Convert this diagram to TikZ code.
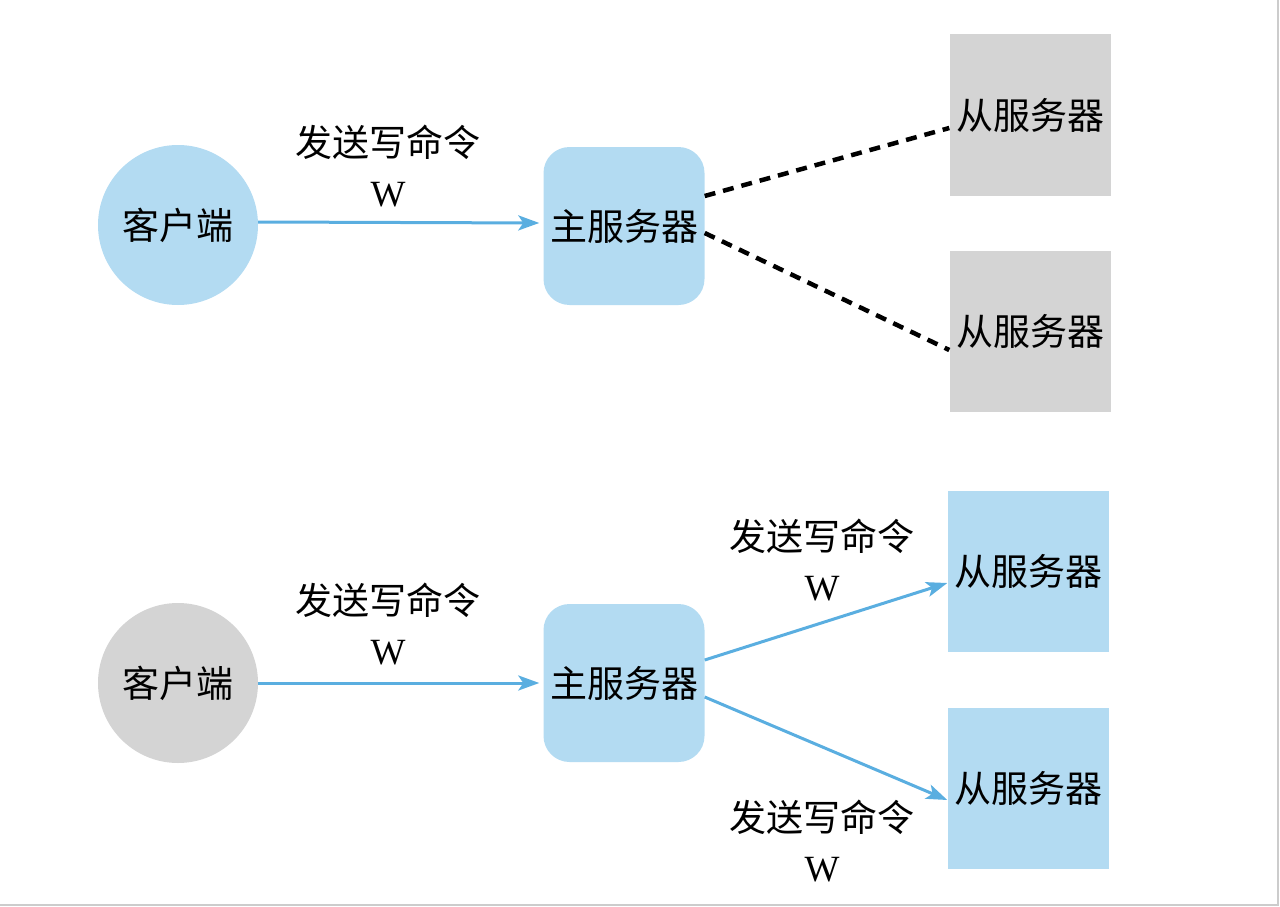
\documentclass[tikz,border=0pt]{standalone}
\usepackage{fontspec}
\setmainfont{Liberation Serif}
\newfontfamily\cjk{Noto Sans CJK SC}
\usetikzlibrary{shapes,arrows.meta,positioning,calc}
\definecolor{skyblue}{HTML}{B3DBF2}
\definecolor{lightgray}{HTML}{D4D4D4}
\definecolor{arrowblue}{HTML}{5AAEE0}
\definecolor{framegray}{HTML}{CCCCCC}

\tikzset{
  txt/.style={font=\fontsize{37}{50}\selectfont\cjk},
  client/.style={circle, minimum size=160pt, inner sep=0pt, txt},
  master/.style={rectangle, rounded corners=26pt, fill=skyblue, minimum width=161pt, minimum height=158pt, inner sep=0pt, txt},
  slave/.style={rectangle, minimum width=161pt, minimum height=161pt, inner sep=0pt, txt},
  sendlabel/.style={align=center, font=\fontsize{37}{50}\selectfont},
  sendarrow/.style={arrowblue, line width=3pt, -{Stealth[length=21pt,width=15pt,inset=5pt]}, shorten >=4pt},
  syncline/.style={black, line width=4.5pt, dash pattern=on 11pt off 8pt}
}

\begin{document}
\begin{tikzpicture}[x=1pt,y=-1pt]
\useasboundingbox (0,0) rectangle (1280,907);
\draw[framegray, line width=2pt] (0,905) -- (1278,905) -- (1278,0);

% top: write goes to master only
\node[client, fill=skyblue] (clientA) at (178,225) {客户端};
\node[master] (masterA) at (624,226) {主服务器};
\node[slave, fill=lightgray] (slaveA) at (1030,115) {从服务器};
\node[slave, fill=lightgray] (slaveB) at (1030,331) {从服务器};
\node[sendlabel] (labelA) at (388,166) {{\cjk 发送写命令}\\W};

\draw[sendarrow] ([yshift=3pt]clientA.east) -- ([yshift=3pt]masterA.west);
\draw[syncline] ([yshift=30pt]masterA.east) -- ([yshift=-13pt]slaveA.west);
\draw[syncline] ([yshift=-7pt]masterA.east) -- ([yshift=-19pt]slaveB.west);

% bottom: master forwards the write
\node[client, fill=lightgray] (clientB) at (178,683) {客户端};
\node[master] (masterB) at (624,683) {主服务器};
\node[slave, fill=skyblue] (slaveC) at (1028,571) {从服务器};
\node[slave, fill=skyblue] (slaveD) at (1028,788) {从服务器};
\node[sendlabel] (labelB) at (388,624) {{\cjk 发送写命令}\\W};
\node[sendlabel] (labelC) at (822,560) {{\cjk 发送写命令}\\W};
\node[sendlabel] (labelD) at (822,841) {{\cjk 发送写命令}\\W};

\draw[sendarrow] (clientB.east) -- (masterB.west);
\draw[sendarrow, shorten >=0pt] ([yshift=23pt]masterB.east) -- ([yshift=-12pt]slaveC.west);
\draw[sendarrow, shorten >=0pt] ([yshift=-14pt]masterB.east) -- ([yshift=-12pt]slaveD.west);
\end{tikzpicture}
\end{document}
